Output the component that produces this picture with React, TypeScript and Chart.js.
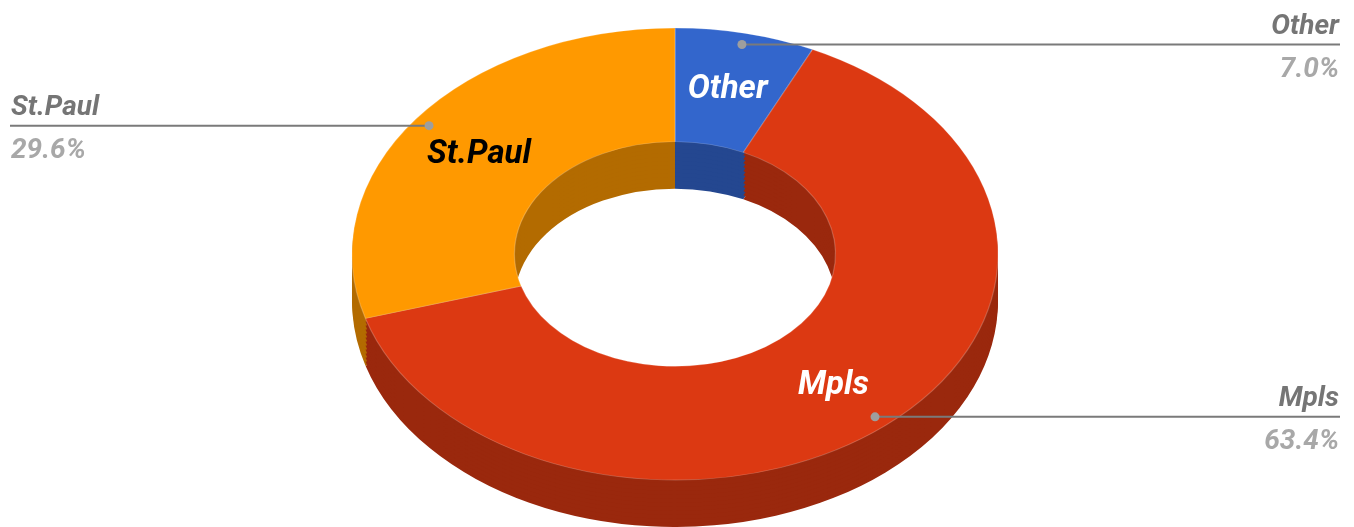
import React, { useEffect, useRef } from "react";
import { Chart, registerables } from "chart.js";

Chart.register(...registerables);

const categories = ["Other", "Mpls", "St.Paul"];
const shares = [7.0, 63.4, 29.6];
const faceColors = ["#3366cc", "#dc3912", "#ff9900"];
const wallColors = ["#244790", "#9a280d", "#b36b00"];
const innerLabelColors = ["#ffffff", "#ffffff", "#000000"];

const W = 1354;
const H = 527;
const CX = 675;
const CY = 254;
const RX = 323;
const RY = 226;
const DEPTH = 47;
const LAYER_STEP = 4;
const FONT = "Roboto, sans-serif";

function project(arc: any, frac: number) {
  const mid = (arc.startAngle + arc.endAngle) / 2;
  return {
    x: CX + RX * frac * Math.cos(mid),
    y: CY + RY * frac * Math.sin(mid),
  };
}

const pie3d = {
  id: "pie3d",
  beforeDatasetsDraw(chart: any) {
    const ctx = chart.ctx;
    const arcs = chart.getDatasetMeta(0).data;
    const first = arcs[0];
    const sx = RX / first.outerRadius;
    const sy = RY / first.outerRadius;
    const place = (dy: number) => {
      ctx.translate(CX, CY + dy);
      ctx.scale(sx, sy);
      ctx.translate(-first.x, -first.y);
    };
    for (let dy = DEPTH; dy >= 1; dy -= LAYER_STEP) {
      arcs.forEach((arc: any, i: number) => {
        const orig = arc.options;
        arc.options = { ...orig, backgroundColor: wallColors[i], borderWidth: 0 };
        ctx.save();
        place(dy);
        arc.draw(ctx);
        ctx.restore();
        arc.options = orig;
      });
    }
    arcs.forEach((arc: any) => {
      ctx.save();
      place(0);
      arc.draw(ctx);
      ctx.restore();
    });
    return false;
  },
  afterDraw(chart: any) {
    const ctx = chart.ctx;
    const arcs = chart.getDatasetMeta(0).data;
    ctx.save();
    ctx.textBaseline = "alphabetic";
    arcs.forEach((arc: any, i: number) => {
      const inner = project(arc, 0.755);
      ctx.font = `italic bold 33px ${FONT}`;
      ctx.textAlign = "center";
      ctx.fillStyle = innerLabelColors[i];
      ctx.fillText(categories[i], inner.x - 0.5, inner.y + 11);

      const dot = project(arc, 0.95);
      const right = dot.x > CX;
      const endX = right ? 1340 : 10;
      const textX = right ? 1339 : 11;
      ctx.strokeStyle = "#7a7a7a";
      ctx.lineWidth = 2;
      ctx.beginPath();
      ctx.moveTo(dot.x, dot.y);
      ctx.lineTo(endX, dot.y);
      ctx.stroke();
      ctx.fillStyle = "#9e9e9e";
      ctx.beginPath();
      ctx.arc(dot.x, dot.y, 4.5, 0, Math.PI * 2);
      ctx.fill();

      ctx.textAlign = right ? "right" : "left";
      ctx.font = `italic bold 28px ${FONT}`;
      ctx.fillStyle = "#757575";
      ctx.fillText(categories[i], textX, dot.y - 10.5);
      ctx.fillStyle = "#a8a8a8";
      ctx.fillText(shares[i].toFixed(1) + "%", textX, dot.y + 32.5);
    });
    ctx.restore();
  },
};

export default function App() {
  const ref = useRef<HTMLCanvasElement>(null);
  useEffect(() => {
    const chart = new Chart(ref.current as HTMLCanvasElement, {
      type: "doughnut",
      data: {
        labels: categories,
        datasets: [
          {
            data: shares,
            backgroundColor: faceColors,
            borderWidth: 1,
            borderColor: "rgba(255,255,255,0.22)",
            borderAlign: "center",
          },
        ],
      },
      options: {
        responsive: false,
        animation: false,
        cutout: "49.7%",
        layout: { padding: 0 },
        plugins: { legend: { display: false }, tooltip: { enabled: false } },
      },
      plugins: [pie3d],
    } as any);
    return () => chart.destroy();
  }, []);
  return (
    <canvas
      ref={ref}
      width={W}
      height={H}
      style={{ position: "absolute", left: 0, top: 0, width: W, height: H, filter: "blur(0.7px)" }}
    />
  );
}
